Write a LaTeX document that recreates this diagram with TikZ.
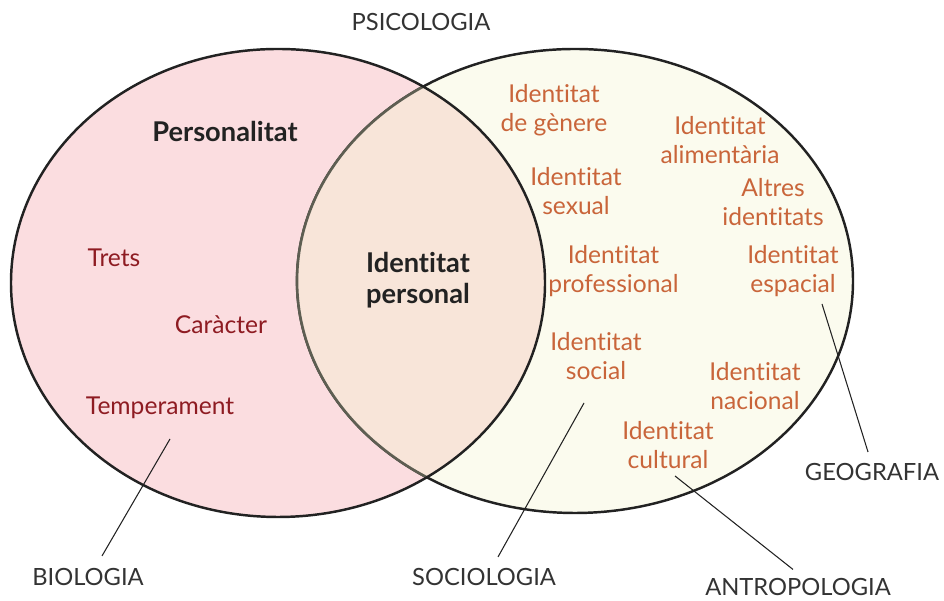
\documentclass[tikz,border=0pt]{standalone}
\usepackage{fontspec}
\setmainfont[Ligatures=NoCommon]{Lato}

\definecolor{pinkfill}{HTML}{FBDDE0}
\definecolor{creamfill}{HTML}{FBFBEE}
\definecolor{peachfill}{HTML}{F8E5D9}
\definecolor{traitred}{HTML}{8E1B22}
\definecolor{identorange}{HTML}{C9653A}
\definecolor{fieldgrey}{HTML}{333333}
\definecolor{rimdark}{HTML}{222222}
\definecolor{rimgrey}{HTML}{5E5E52}

\tikzset{
  item/.style={font=\fontsize{14}{16.5}\selectfont, align=center, inner sep=0pt},
  trait/.style={item, text=traitred},
  ident/.style={item, text=identorange},
  field/.style={item, text=fieldgrey, font=\fontsize{13.5}{16}\selectfont},
  core/.style={item, text=rimdark, font=\fontsize{15.5}{18}\selectfont\bfseries},
  rim/.style={draw=rimdark, line width=1.4pt},
  leader/.style={draw=rimdark, line width=0.6pt},
}

\def\leftset{(5.56,6.36) ellipse (5.34 and 4.68)}
\def\rightset{(11.5,6.4) ellipse (5.56 and 4.64)}

\begin{document}
\begin{tikzpicture}
  \useasboundingbox (0,0) rectangle (18.88,12.02);
  % the two sets
  \fill[pinkfill] \leftset;
  \fill[creamfill] \rightset;
  \draw[rim] \rightset;
  \begin{scope}
    \clip \leftset;
    \fill[peachfill] \rightset;
    \draw[rim, draw=rimgrey, line width=1.5pt] \rightset;
  \end{scope}
  \draw[rim] \leftset;

  % left set
  \node[core] (pers) at (4.5,9.38) {Personalitat};
  \node[trait] (trets) at (2.28,6.86) {Trets};
  \node[trait] (caracter) at (4.42,5.52) {Caràcter};
  \node[trait] (temper) at (3.2,3.86) {Temperament};

  % both
  \node[core] (idpers) at (8.36,6.42) {Identitat\\personal};

  % right set
  \node[ident] (genere) at (11.08,9.82) {Identitat\\de gènere};
  \node[ident] (aliment) at (14.4,9.22) {Identitat\\alimentària};
  \node[ident] (altres) at (15.46,7.98) {Altres\\identitats};
  \node[ident] (sexual) at (11.52,8.2) {Identitat\\sexual};
  \node[ident] (profes) at (12.27,6.6) {Identitat\\professional};
  \node[ident] (espai) at (15.86,6.6) {Identitat\\espacial};
  \node[ident] (social) at (11.92,4.9) {Identitat\\social};
  \node[ident] (nacio) at (15.1,4.3) {Identitat\\nacional};
  \node[ident] (cultura) at (13.36,3.12) {Identitat\\cultural};

  % disciplines
  \node[field] (psico) at (8.42,11.58) {PSICOLOGIA};
  \node[field] (bio) at (1.76,0.48) {BIOLOGIA};
  \node[field] (socio) at (9.68,0.48) {SOCIOLOGIA};
  \node[field] (geo) at (17.44,2.58) {GEOGRAFIA};
  \node[field] (antro) at (15.96,0.27) {ANTROPOLOGIA};

  \coordinate (bioend) at (3.4,3.24);
  \coordinate (socioend) at (11.68,3.96);
  \coordinate (geoend) at (16.44,5.94);
  \coordinate (antroend) at (13.5,2.5);
  \draw[leader] ([xshift=0.28cm, yshift=0.24cm]bio.north) -- (bioend);
  \draw[leader] ([xshift=0.28cm, yshift=0.22cm]socio.north) -- (socioend);
  \draw[leader] ([xshift=-0.08cm, yshift=0.22cm]geo.north) -- (geoend);
  \draw[leader] ([xshift=-0.1cm, yshift=0.18cm]antro.north) -- (antroend);
\end{tikzpicture}
\end{document}
